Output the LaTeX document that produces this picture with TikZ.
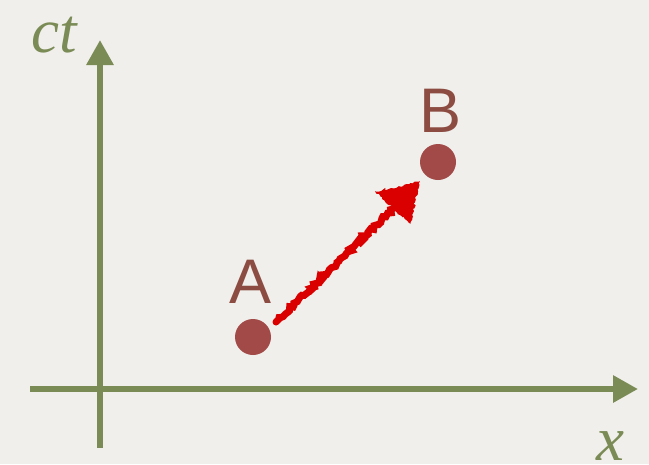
\documentclass[tikz,border=0pt]{standalone}
\usepackage{fontspec}
\newfontfamily\labfont{Liberation Sans}
\newfontfamily\axfont{Liberation Serif}
\usetikzlibrary{arrows.meta,decorations.pathmorphing}
\definecolor{bg}{HTML}{F0EFEB}
\definecolor{axgreen}{HTML}{7A8B55}
\definecolor{dotred}{HTML}{A24A48}
\definecolor{labbrown}{HTML}{8C4C42}
\definecolor{crayon}{HTML}{DA0000}
\tikzset{
  axis/.style={draw=axgreen,line width=6pt,-{Triangle[width=26pt,length=25pt]}},
  axlabel/.style={text=axgreen,font=\axfont\fontsize{63}{63}\selectfont\itshape,inner sep=0pt,anchor=base west},
  evt/.style={circle,fill=dotred,minimum size=36pt,inner sep=0pt},
  evlabel/.style={text=labbrown,font=\labfont\fontsize{63}{63}\selectfont,inner sep=0pt,anchor=base},
  crayonline/.style={draw=crayon,line width=7pt,line cap=round,decorate,decoration={random steps,segment length=2.5pt,amplitude=1.6pt}},
  crayonhead/.style={fill=crayon,draw=crayon,line width=1pt,decorate,decoration={random steps,segment length=2pt,amplitude=1.2pt}}
}
\begin{document}
\begin{tikzpicture}[x=1pt,y=-1pt]
\useasboundingbox (0,0) rectangle (649,464);
\fill[bg] (0,0) rectangle (649,464);
% axes
\coordinate (vbot) at (100,448);
\coordinate (vtop) at (100,40);
\coordinate (hleft) at (30,389);
\coordinate (hright) at (638,389);
\draw[axis] (vbot) -- (vtop);
\draw[axis] (hleft) -- (hright);
\node[axlabel] (ctlab) at (31,52) {ct};
\node[axlabel] (xlab) at (596,460) {x};
% events
\node[evt] (A) at (253,337) {};
\node[evt] (B) at (438,162) {};
\node[evlabel] (Alab) at (251,303) {A};
\node[evlabel] (Blab) at (441,132) {B};
% crayon arrow
\coordinate (tail) at (276,322);
\coordinate (neck) at (393,209);
\coordinate (tip) at (419,182);
\coordinate (hl) at (376,192);
\coordinate (hb) at (410,223);
\draw[crayonline] (tail) -- (neck);
\filldraw[crayonhead] (tip) -- (hl) -- (hb) -- cycle;
\end{tikzpicture}
\end{document}
